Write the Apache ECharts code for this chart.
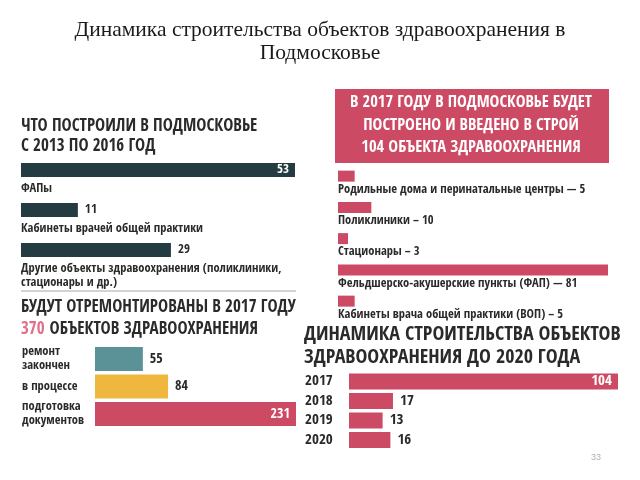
<!DOCTYPE html>
<html>
<head>
<meta charset="utf-8">
<script src="https://cdn.jsdelivr.net/npm/echarts@6/dist/echarts.min.js"></script>
<style>html,body{margin:0;padding:0;background:#fff}#c{width:640px;height:480px}</style>
</head>
<body>
<div id="c"></div>
<script>
// ---- data ----
const mainTitle = 'Динамика строительства объектов здравоохранения в\nПодмосковье';

const p1Title = 'ЧТО ПОСТРОИЛИ В ПОДМОСКОВЬЕ\nС 2013 ПО 2016 ГОД';
const p1Categories = ['ФАПы', 'Кабинеты врачей общей практики', 'Другие объекты здравоохранения (поликлиники,\nстационары и др.)'];
const p1Values = [53, 11, 29];

const p2Title = 'В 2017 ГОДУ В ПОДМОСКОВЬЕ БУДЕТ\nПОСТРОЕНО И ВВЕДЕНО В СТРОЙ\n104 ОБЪЕКТА ЗДРАВООХРАНЕНИЯ';
const p2Categories = ['Родильные дома и перинатальные центры — 5', 'Поликлиники – 10', 'Стационары – 3', 'Фельдшерско-акушерские пункты (ФАП) — 81', 'Кабинеты врача общей практики (ВОП) – 5'];
const p2Values = [5, 10, 3, 81, 5];

const p3TitleLine1 = 'БУДУТ ОТРЕМОНТИРОВАНЫ В 2017 ГОДУ';
const p3TitleNumber = '370';
const p3TitleRest = 'ОБЪЕКТОВ ЗДРАВООХРАНЕНИЯ';
const p3Categories = ['ремонт\nзакончен', 'в процессе', 'подготовка\nдокументов'];
const p3Values = [55, 84, 231];

const p4Title = 'ДИНАМИКА СТРОИТЕЛЬСТВА ОБЪЕКТОВ\nЗДРАВООХРАНЕНИЯ ДО 2020 ГОДА';
const p4Categories = ['2017', '2018', '2019', '2020'];
const p4Values = [104, 17, 13, 16];

const pageNumber = '33';

// ---- styles ----
const COND = '"Open Sans Condensed", "Open Sans", "Roboto Condensed", sans-serif';
const DARK = '#243b42';
const RED = '#cc4a63';
const TEAL = '#5a9297';
const YELLOW = '#efb73e';
const TXT = '#2a2a2a';

function valueData(values, colors) {
  const mx = Math.max(...values);
  return values.map((v, i) => ({
    value: v,
    itemStyle: { color: Array.isArray(colors) ? colors[i] : colors },
    label: v === mx
      ? { position: 'insideRight', color: '#fff', offset: [-1, 0] }
      : { position: 'right', color: TXT, distance: 7 }
  }));
}

function valueAxis(gi, max) {
  return { gridIndex: gi, type: 'value', min: 0, max: max, show: false };
}
function catAxis(gi, cats, labelOpts) {
  return {
    gridIndex: gi, type: 'category', data: cats, inverse: true,
    axisLine: { show: false }, axisTick: { show: false }, splitLine: { show: false },
    axisLabel: labelOpts || { show: false }
  };
}

function mainSeries(gi, values, colors, barWidth, fontSize, showValue) {
  return {
    type: 'bar', xAxisIndex: gi, yAxisIndex: gi, barWidth: barWidth,
    data: showValue ? valueData(values, colors) : values.map(v => ({ value: v, itemStyle: { color: colors } })),
    silent: true,
    label: { show: showValue, fontFamily: COND, fontWeight: 'bold', fontSize: fontSize, formatter: '{c}' }
  };
}
function nameSeries(gi, values, barWidth, dy, fontSize) {
  return {
    type: 'bar', xAxisIndex: gi, yAxisIndex: gi, barWidth: barWidth, barGap: '-100%',
    data: values, silent: true, itemStyle: { color: 'rgba(0,0,0,0)' },
    label: { show: true, position: [0, dy], formatter: '{b}', fontFamily: COND, fontWeight: 'bold',
             fontSize: fontSize, color: TXT, lineHeight: 14, align: 'left', verticalAlign: 'top' }
  };
}

const chart = echarts.init(document.getElementById('c'));
chart.setOption({
  backgroundColor: '#fff',
  animation: false,
  title: [
    { text: mainTitle, left: 'center', top: 18.5, padding: 0,
      textStyle: { fontFamily: '"Liberation Serif", "Times New Roman", serif', fontWeight: 'normal', fontSize: 21.5, color: '#1a1a1a', lineHeight: 23 } },
    { text: p1Title, left: 21, top: 117, padding: 0,
      textStyle: { fontFamily: COND, fontWeight: 'bold', fontSize: 17, color: TXT, lineHeight: 20 } },
    { text: '{t|' + p3TitleLine1 + '}\n{n|' + p3TitleNumber + '} {t|' + p3TitleRest + '}', left: 21, top: 297, padding: 0,
      textStyle: { rich: {
        t: { fontFamily: COND, fontWeight: 'bold', fontSize: 17, color: TXT, lineHeight: 22 },
        n: { fontFamily: COND, fontWeight: 'bold', fontSize: 17, color: '#e0708a', lineHeight: 22 } } } },
    { text: p4Title, left: 304, top: 323.5, padding: 0,
      textStyle: { fontFamily: COND, fontWeight: 'bold', fontSize: 20, color: TXT, lineHeight: 23 } },
    { text: pageNumber, left: 591, top: 453, padding: 0,
      textStyle: { fontFamily: 'sans-serif', fontWeight: 'normal', fontSize: 9, color: '#b0b0b0' } }
  ],
  graphic: [
    { type: 'rect', shape: { x: 335, y: 89, width: 274, height: 74 }, style: { fill: RED }, silent: true },
    { type: 'text', x: 471, y: 125.5, style: { text: p2Title, fill: '#fff', font: 'bold 16.5px ' + COND,
      textAlign: 'center', textVerticalAlign: 'middle', lineHeight: 22.5 }, silent: true },
    { type: 'line', shape: { x1: 21, y1: 291, x2: 296, y2: 291 }, style: { stroke: '#c4c4c4', lineWidth: 1.5 }, silent: true }
  ],
  grid: [
    { left: 21, top: 150, width: 274, height: 120 },
    { left: 338, top: 160.5, width: 270, height: 156.25 },
    { left: 95, top: 345.25, width: 201, height: 82.5 },
    { left: 349, top: 371.75, width: 269, height: 78 }
  ],
  xAxis: [valueAxis(0, 53), valueAxis(1, 81), valueAxis(2, 231), valueAxis(3, 104)],
  yAxis: [
    catAxis(0, p1Categories),
    catAxis(1, p2Categories),
    catAxis(2, p3Categories, { show: true, interval: 0, align: 'left', margin: 73, fontFamily: COND,
      fontWeight: 'bold', fontSize: 12.5, color: TXT, lineHeight: 14 }),
    catAxis(3, p4Categories, { show: true, interval: 0, align: 'left', margin: 44, fontFamily: COND,
      fontWeight: 'bold', fontSize: 15, color: TXT })
  ],
  series: [
    mainSeries(0, p1Values, DARK, 14, 13, true),
    nameSeries(0, p1Values, 14, 19, 12.5),
    mainSeries(1, p2Values, RED, 11, 13, false),
    nameSeries(1, p2Values, 11, 12, 12.5),
    mainSeries(2, p3Values, [TEAL, YELLOW, RED], 24, 14, true),
    mainSeries(3, p4Values, RED, 16, 15, true)
  ]
});
</script>
</body>
</html>
